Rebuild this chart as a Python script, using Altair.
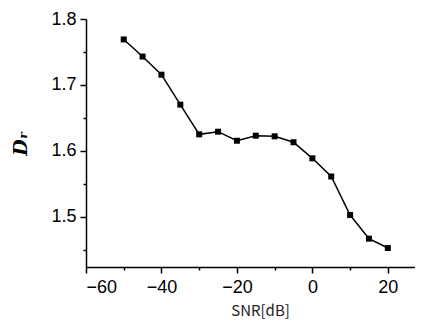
import altair as alt
import pandas as pd

snr = [-50, -45, -40, -35, -30, -25, -20, -15, -10, -5, 0, 5, 10, 15, 20]
dr = [1.769, 1.743, 1.7155, 1.670, 1.625, 1.629, 1.6153, 1.623, 1.622,
      1.613, 1.5886, 1.561, 1.5026, 1.4667, 1.4525]
x_ticks = [-60, -50, -40, -30, -20, -10, 0, 10, 20]
y_ticks = [1.45, 1.5, 1.55, 1.6, 1.65, 1.7, 1.75, 1.8]

df = pd.DataFrame({"snr": snr, "dr": dr})

x_enc = alt.X(
    "snr:Q",
    scale=alt.Scale(domain=[-60, 27.2], nice=False, zero=False),
    axis=alt.Axis(
        title="SNR[dB]",
        values=x_ticks,
        labelExpr="datum.value % 20 === 0 ? datum.label : ''",
        grid=False,
        domainColor="black",
        domainWidth=1.5,
        tickColor="black",
        tickWidth=1.5,
        tickSize={"condition": {"test": "datum.value % 20 === 0", "value": 6}, "value": 3},
        labelFont="Liberation Sans",
        labelFontSize=18,
        labelColor="black",
        labelPadding=5,
        titleFont="Noto Sans CJK JP",
        titleFontSize=15,
        titleFontWeight="normal",
        titleColor="#222222",
        titleX=174,
        titleY=48,
        titleBaseline="alphabetic",
    ),
)

y_enc = alt.Y(
    "dr:Q",
    scale=alt.Scale(domain=[1.4237, 1.8], nice=False, zero=False),
    axis=alt.Axis(
        title="Dᵣ",
        values=y_ticks,
        labelExpr="abs(datum.value*10 - round(datum.value*10)) < 0.01 ? format(datum.value, '.1f') : ''",
        grid=False,
        domainColor="black",
        domainWidth=1.5,
        tickColor="black",
        tickWidth=1.5,
        tickSize={"condition": {"test": "abs(datum.value*10 - round(datum.value*10)) < 0.01", "value": 6}, "value": 3},
        labelFont="Liberation Sans",
        labelFontSize=18,
        labelColor="black",
        labelPadding=4,
        titleFont="DejaVu Serif",
        titleFontSize=19,
        titleFontWeight="bold",
        titleFontStyle="italic",
        titleColor="black",
        titlePadding=20,
    ),
)

base = alt.Chart(df).encode(x=x_enc, y=y_enc)
line = base.mark_line(color="black", strokeWidth=1.5)
pts = base.mark_point(shape="square", filled=True, color="black", size=36, opacity=1)

chart = (
    alt.layer(line, pts)
    .properties(
        width=329,
        height=248,
        padding={"left": 78, "top": 11, "right": 0, "bottom": 59},
        autosize=alt.AutoSizeParams(type="none"),
    )
    .configure(background="white")
    .configure_view(stroke=None)
)

chart.save("out.html", embed_options={"renderer": "svg", "actions": False})
